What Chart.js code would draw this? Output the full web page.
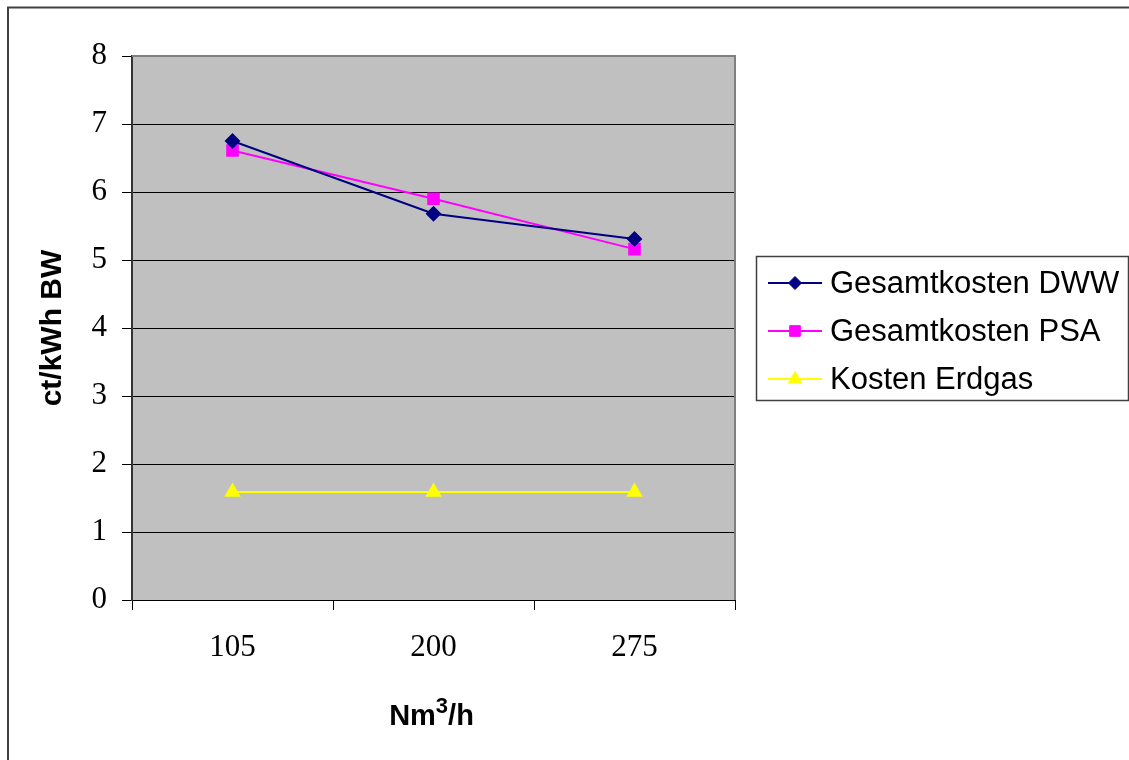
<!DOCTYPE html>
<html>
<head>
<meta charset="utf-8">
<script src="https://cdn.jsdelivr.net/npm/chart.js@4/dist/chart.umd.min.js"></script>
<style>
  html, body { margin: 0; padding: 0; background: #ffffff; }
  #wrap { width: 1129px; height: 760px; position: relative; }
  canvas { display: block; }
</style>
</head>
<body>
<div id="wrap"><canvas id="c" width="1129" height="760"></canvas></div>
<script>
const categories = ['105', '200', '275'];
const seriesNames = ['Gesamtkosten DWW', 'Gesamtkosten PSA', 'Kosten Erdgas'];
const dww = [6.75, 5.68, 5.31];
const psa = [6.61, 5.90, 5.16];
const erdgas = [1.59, 1.59, 1.59];
const yTicks = [0, 1, 2, 3, 4, 5, 6, 7, 8];
const xTitleParts = ['Nm', '3', '/h'];
const yTitle = 'ct/kWh BW';

const serif = '"Liberation Serif", "Times New Roman", serif';
const sans = '"Liberation Sans", Arial, sans-serif';

const frame = {
  id: 'frame',
  beforeDraw(chart) {
    const { ctx, chartArea: a } = chart;
    ctx.save();
    ctx.fillStyle = '#ffffff';
    ctx.fillRect(0, 0, chart.width, chart.height);
    ctx.fillStyle = '#c0c0c0';
    ctx.fillRect(a.left, a.top, a.right - a.left, a.bottom - a.top);
    ctx.restore();
  },
  beforeDatasetsDraw(chart) {
    const { ctx, chartArea: a } = chart;
    ctx.save();
    ctx.strokeStyle = '#808080';
    ctx.lineWidth = 2;
    ctx.beginPath();
    ctx.moveTo(a.left, a.top);
    ctx.lineTo(a.right, a.top);
    ctx.lineTo(a.right, a.bottom);
    ctx.stroke();
    ctx.restore();
  },
  afterDraw(chart) {
    const { ctx, chartArea: a } = chart;
    ctx.save();
    // outer border
    ctx.strokeStyle = '#404040';
    ctx.lineWidth = 2;
    ctx.strokeRect(8, 7.5, 1300, 900);

    // x-axis title with superscript
    const big = 'bold 29px ' + sans, small = 'bold 22px ' + sans;
    ctx.font = big; const w1 = ctx.measureText(xTitleParts[0]).width;
    const w3 = ctx.measureText(xTitleParts[2]).width;
    ctx.font = small; const w2 = ctx.measureText(xTitleParts[1]).width;
    const total = w1 + w2 + w3;
    let x0 = (a.left + a.right) / 2 - total / 2 - 2;
    const base = 725;
    ctx.fillStyle = '#000000';
    ctx.textAlign = 'left';
    ctx.textBaseline = 'alphabetic';
    ctx.font = big; ctx.fillText(xTitleParts[0], x0, base);
    ctx.font = small; ctx.fillText(xTitleParts[1], x0 + w1, base - 12);
    ctx.font = big; ctx.fillText(xTitleParts[2], x0 + w1 + w2, base);

    // legend
    const lx = 756, ly = 256, lw = 372, lh = 144;
    ctx.strokeStyle = '#404040';
    ctx.lineWidth = 1.5;
    ctx.strokeRect(lx + 0.5, ly + 0.5, lw, lh);
    const rows = [283, 331, 379];
    chart.data.datasets.forEach((ds, i) => {
      const y = rows[i];
      ctx.strokeStyle = ds.borderColor;
      ctx.lineWidth = 2;
      ctx.beginPath();
      ctx.moveTo(768, y);
      ctx.lineTo(822, y);
      ctx.stroke();
      ctx.fillStyle = ds.pointBackgroundColor;
      ctx.strokeStyle = ds.pointBorderColor;
      ctx.lineWidth = 1;
      if (Chart.helpers && Chart.helpers.drawPoint) {
        Chart.helpers.drawPoint(ctx, { pointStyle: ds.pointStyle, radius: ds.pointRadius, borderWidth: 1, rotation: 0 }, 795, y);
      }
      ctx.fillStyle = '#000000';
      ctx.font = '31px ' + sans;
      ctx.textAlign = 'left';
      ctx.textBaseline = 'middle';
      ctx.fillText(ds.label, 830, y + 1);
    });
    ctx.restore();
  }
};

new Chart(document.getElementById('c'), {
  type: 'line',
  data: {
    labels: categories,
    datasets: [
      { label: seriesNames[0], data: dww, borderColor: '#000080', backgroundColor: '#000080',
        pointBackgroundColor: '#000080', pointBorderColor: '#000080', pointStyle: 'rectRot', pointRadius: 6.5, borderWidth: 2, tension: 0 },
      { label: seriesNames[1], data: psa, borderColor: '#ff00ff', backgroundColor: '#ff00ff',
        pointBackgroundColor: '#ff00ff', pointBorderColor: '#ff00ff', pointStyle: 'rect', pointRadius: 7.5, borderWidth: 2, tension: 0 },
      { label: seriesNames[2], data: erdgas, borderColor: '#ffff00', backgroundColor: '#ffff00',
        pointBackgroundColor: '#ffff00', pointBorderColor: '#ffff00', pointStyle: 'triangle', pointRadius: 7.5, borderWidth: 2, tension: 0 }
    ]
  },
  options: {
    responsive: false,
    animation: false,
    devicePixelRatio: 1,
    layout: { padding: { left: 0, top: 56, right: 394, bottom: 0 } },
    plugins: { legend: { display: false }, tooltip: { enabled: false } },
    scales: {
      x: {
        type: 'category',
        offset: true,
        afterFit(s) { s.height = 160; },
        grid: { display: true, drawOnChartArea: false, drawTicks: true, tickLength: 10, offset: true, color: '#000000', lineWidth: 1 },
        border: { display: true, color: '#000000', width: 1 },
        ticks: { color: '#000000', font: { family: serif, size: 31 }, padding: 19, maxRotation: 0 },
        title: { display: false }
      },
      y: {
        min: 0, max: 8,
        afterFit(s) { s.width = 132; },
        afterBuildTicks(s) { s.ticks = yTicks.map(v => ({ value: v })); },
        grid: { display: true, drawOnChartArea: true, drawTicks: true, tickLength: 10, color: '#000000', lineWidth: 1 },
        border: { display: true, color: '#333333', width: 2 },
        ticks: { color: '#000000', font: { family: serif, size: 31 }, padding: 15, stepSize: 1 },
        title: { display: true, text: yTitle, color: '#000000', font: { family: sans, size: 30, weight: 'bold' }, padding: { top: 35, bottom: 0 } }
      }
    }
  },
  plugins: [frame]
});
</script>
</body>
</html>
